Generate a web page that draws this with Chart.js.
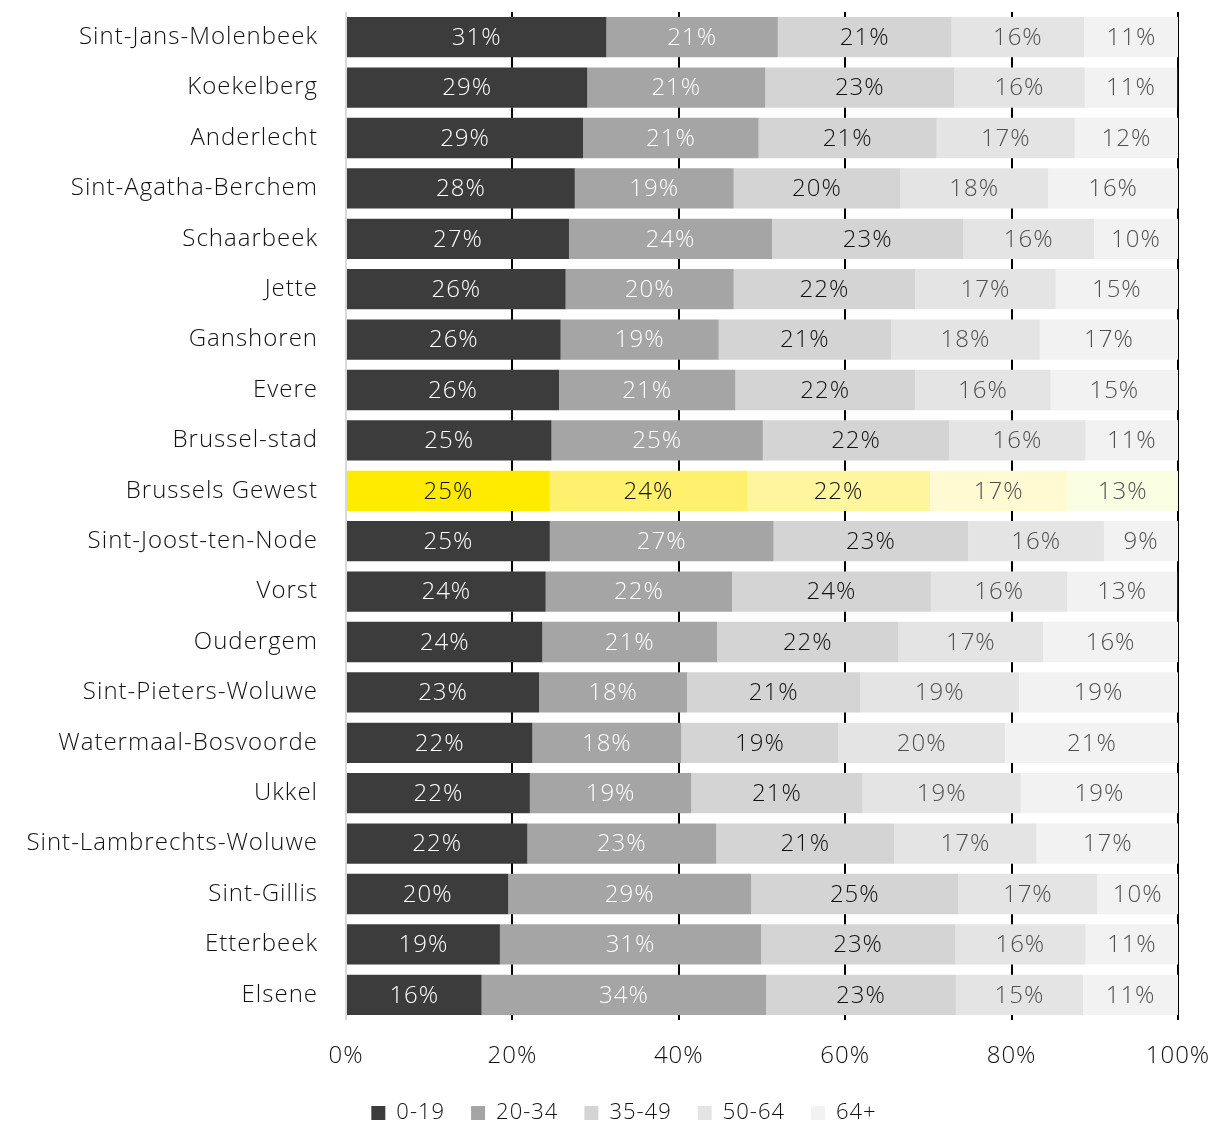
<!DOCTYPE html>
<html>
<head>
<meta charset="utf-8">
<script src="https://cdn.jsdelivr.net/npm/chart.js@4.4.1/dist/chart.umd.min.js"></script>
<style>
  html, body { margin: 0; background: #fff; overflow: hidden; }
  #wrap { width: 1222px; height: 1134px; }
</style>
</head>
<body>
<div id="wrap"><canvas id="ageChart"></canvas></div>
<script>
const gemeenten = ['Sint-Jans-Molenbeek', 'Koekelberg', 'Anderlecht', 'Sint-Agatha-Berchem', 'Schaarbeek',
  'Jette', 'Ganshoren', 'Evere', 'Brussel-stad', 'Brussels Gewest', 'Sint-Joost-ten-Node', 'Vorst',
  'Oudergem', 'Sint-Pieters-Woluwe', 'Watermaal-Bosvoorde', 'Ukkel', 'Sint-Lambrechts-Woluwe',
  'Sint-Gillis', 'Etterbeek', 'Elsene'];
const ageGroups = ['0-19', '20-34', '35-49', '50-64', '64+'];

const age0_19  = [31.3, 29.0, 28.5, 27.5, 26.8, 26.4, 25.8, 25.6, 24.7, 24.5, 24.5, 24.0, 23.6, 23.2, 22.4, 22.1, 21.8, 19.5, 18.5, 16.3];
const age20_34 = [20.6, 21.4, 21.1, 19.1, 24.4, 20.2, 19.0, 21.2, 25.4, 23.7, 26.9, 22.4, 21.0, 17.8, 17.9, 19.4, 22.7, 29.2, 31.4, 34.2];
const age35_49 = [20.9, 22.7, 21.4, 20.0, 23.0, 21.8, 20.7, 21.6, 22.4, 22.0, 23.4, 23.9, 21.8, 20.8, 18.9, 20.6, 21.4, 24.9, 23.3, 22.8];
const age50_64 = [15.9, 15.7, 16.6, 17.8, 15.7, 16.9, 17.9, 16.3, 16.4, 16.5, 16.3, 16.4, 17.4, 19.1, 20.0, 19.0, 17.1, 16.7, 15.7, 15.3];
const age64up  = [11.4, 11.1, 12.4, 15.6, 10.1, 14.7, 16.6, 15.3, 11.1, 13.3, 8.9, 13.2, 16.2, 19.1, 20.9, 18.9, 17.1, 9.7, 11.1, 11.4];
const xTicks = [0, 20, 40, 60, 80, 100];

const highlight = 'Brussels Gewest';
const greys   = ['#3c3c3c', '#a5a5a5', '#d4d4d4', '#e4e4e4', '#f2f2f2'];
const yellows = ['#ffeb00', '#fff06e', '#fff59f', '#fffad2', '#f9fde1'];
const textGrey   = ['#ffffff', '#ffffff', '#111111', '#505050', '#505050'];
const textYellow = ['#111111', '#111111', '#111111', '#505050', '#505050'];

const FONT = '"Open Sans", "Noto Sans", sans-serif';

const series = [age0_19, age20_34, age35_49, age50_64, age64up];
const datasets = series.map((vals, i) => ({
  label: ageGroups[i],
  data: vals,
  backgroundColor: ctx => gemeenten[ctx.dataIndex] === highlight ? yellows[i] : greys[i],
  borderWidth: 0,
  barPercentage: 0.8,
  categoryPercentage: 1.0
}));

// looser letters, like the original font
const spacing = {
  id: 'spacing',
  beforeUpdate(chart) { chart.ctx.letterSpacing = '1px'; },
  beforeDraw(chart) { chart.ctx.letterSpacing = '1px'; }
};

// legend sits a bit right of the canvas centre in the original
const legendShift = {
  id: 'legendShift',
  afterLayout(chart) {
    if (chart.legend) { chart.legend.left += 35; chart.legend.right += 35; }
  }
};

// percentages inside each segment
const barLabels = {
  id: 'barLabels',
  afterDatasetsDraw(chart) {
    const ctx = chart.ctx;
    ctx.save();
    ctx.font = '300 24px ' + FONT;
    ctx.textAlign = 'center';
    ctx.textBaseline = 'middle';
    chart.data.datasets.forEach((ds, i) => {
      chart.getDatasetMeta(i).data.forEach((bar, j) => {
        const hl = gemeenten[j] === highlight;
        ctx.fillStyle = hl ? textYellow[i] : textGrey[i];
        const cx = (bar.x + bar.base) / 2;
        ctx.fillText(Math.round(ds.data[j]) + '%', cx, bar.y + 1);
      });
    });
    ctx.restore();
  }
};

new Chart(document.getElementById('ageChart'), {
  type: 'bar',
  data: { labels: gemeenten, datasets: datasets },
  options: {
    indexAxis: 'y',
    responsive: true,
    maintainAspectRatio: false,
    animation: false,
    layout: { padding: { top: 12, right: 44, bottom: 0, left: 0 } },
    scales: {
      x: {
        stacked: true,
        min: 0,
        max: 100,
        afterBuildTicks: s => { s.ticks = xTicks.map(v => ({ value: v })); },
        afterFit: s => { s.height = 56; s.paddingLeft = 0; s.paddingRight = 0; },
        grid: {
          color: c => c.index === 0 ? '#d9d9d9' : '#000000',
          lineWidth: 2,
          drawTicks: false
        },
        border: { display: false },
        ticks: {
          padding: 22,
          color: '#111',
          font: { family: FONT, size: 24, weight: '300' },
          callback: v => v + '%'
        }
      },
      y: {
        stacked: true,
        afterFit: s => { s.width = 346; s.paddingTop = 0; s.paddingBottom = 0; },
        grid: { display: false },
        border: { display: false },
        ticks: {
          padding: 20,
          color: '#111',
          font: { family: FONT, size: 24, weight: '300' }
        }
      }
    },
    plugins: {
      legend: {
        position: 'bottom',
        labels: {
          boxWidth: 14,
          boxHeight: 14,
          padding: 26,
          color: '#111',
          font: { family: FONT, size: 22, weight: '300' }
        }
      },
      tooltip: { enabled: false }
    }
  },
  plugins: [spacing, legendShift, barLabels]
});
</script>
</body>
</html>
